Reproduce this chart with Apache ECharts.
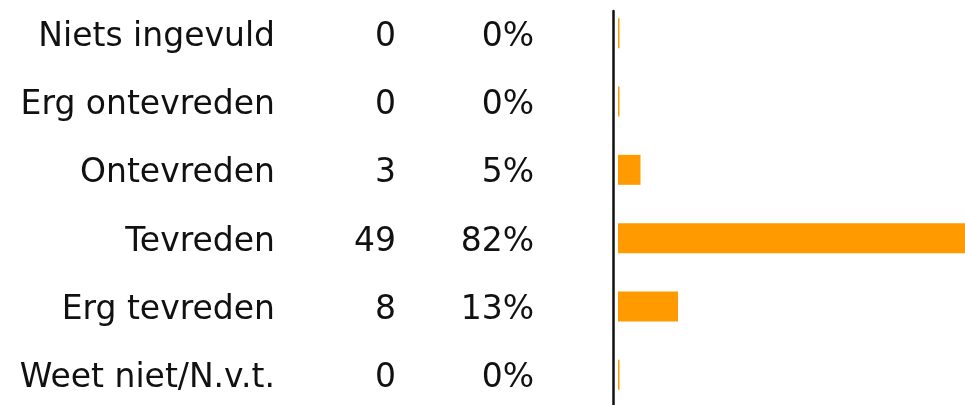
<!DOCTYPE html>
<html>
<head>
<meta charset="utf-8">
<script src="https://cdn.jsdelivr.net/npm/echarts@6/dist/echarts.min.js"></script>
<style>
html,body{margin:0;padding:0;background:#fff;}
#chart{width:965px;height:405px;}
</style>
</head>
<body>
<div id="chart"></div>
<script>
const categories = ['Niets ingevuld', 'Erg ontevreden', 'Ontevreden', 'Tevreden', 'Erg tevreden', 'Weet niet/N.v.t.'];
const counts = [0, 0, 3, 49, 8, 0];
const percentLabels = ['0%', '0%', '5%', '82%', '13%', '0%'];

const FONT = '"DejaVu Sans", sans-serif';
const FS = 33;
const TEXT = '#111';

function labelAxis(margin, fmt) {
  return {
    type: 'category', gridIndex: 1, data: categories, inverse: true, position: 'left', offset: 0,
    axisLine: {show: false, onZero: false}, axisTick: {show: false},
    axisLabel: {show: true, margin: margin, fontFamily: FONT, fontSize: FS, color: TEXT, formatter: fmt}
  };
}

const chart = echarts.init(document.getElementById('chart'), null, {renderer: 'canvas'});
chart.setOption({
  animation: false,
  backgroundColor: '#ffffff',
  grid: [
    {left: 618, top: -1, height: 410, width: 450, containLabel: false, outerBoundsMode: 'none'},
    {left: 618, top: 3, height: 410, width: 450, containLabel: false, outerBoundsMode: 'none'},
    {left: 618, top: 11, height: 400, width: 450, containLabel: false, outerBoundsMode: 'none'}
  ],
  xAxis: [
    {type: 'value', gridIndex: 0, min: 0, max: 60, show: false},
    {type: 'value', gridIndex: 1, min: 0, max: 60, show: false},
    {type: 'value', gridIndex: 2, min: 0, max: 60, show: false}
  ],
  yAxis: [
    {type: 'category', gridIndex: 0, data: categories, inverse: true, position: 'left',
     axisLine: {show: false}, axisTick: {show: false}, axisLabel: {show: false}},
    labelAxis(343, (v) => v),
    labelAxis(222, (v, i) => String(counts[i])),
    labelAxis(84, (v, i) => percentLabels[i]),
    {type: 'category', gridIndex: 2, data: categories, inverse: true, position: 'left', offset: 5,
     axisLine: {show: true, onZero: false, lineStyle: {color: '#111', width: 2.5}},
     axisTick: {show: false}, axisLabel: {show: false}}
  ],
  series: [{
    type: 'bar', xAxisIndex: 0, yAxisIndex: 0, data: counts, barWidth: 30, barMinHeight: 1.5,
    itemStyle: {color: '#ff9b00'}, silent: true
  }]
});
</script>
</body>
</html>
